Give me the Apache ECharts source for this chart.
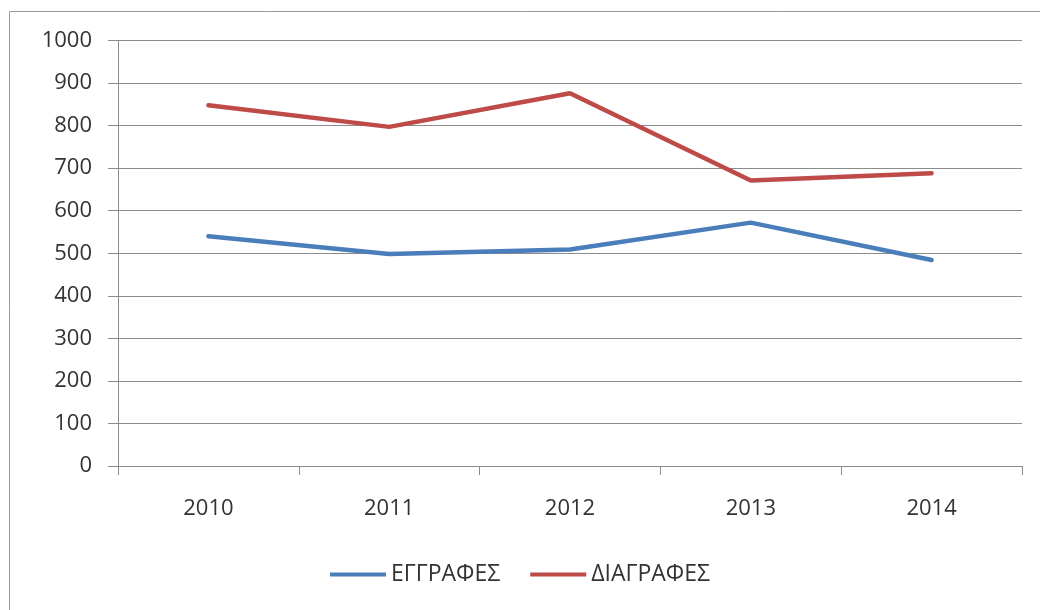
<!DOCTYPE html>
<html>
<head>
<meta charset="utf-8">
<script src="https://cdn.jsdelivr.net/npm/echarts@6/dist/echarts.min.js"></script>
<style>
  html, body { margin: 0; padding: 0; background: #fff; }
  #chart { width: 1040px; height: 610px; }
</style>
</head>
<body>
<div id="chart"></div>
<script>
const years = ['2010', '2011', '2012', '2013', '2014']
const registrations = [540, 498, 509, 572, 484]   // ΕΓΓΡΑΦΕΣ
const deletions = [848, 797, 876, 671, 688]       // ΔΙΑΓΡΑΦΕΣ

const axisGrey = '#8c8c8c'
const textColor = '#333333'
const fontFamily = 'Open Sans, Liberation Sans, sans-serif'

const chart = echarts.init(document.getElementById('chart'))
chart.setOption({
  animation: false,
  graphic: [{
    type: 'rect',
    shape: { x: 9.5, y: 11.5, width: 1200, height: 800 },
    style: { fill: 'none', stroke: '#9a9a9a', lineWidth: 1 },
    silent: true
  }],
  grid: {
    left: 118,
    right: 18,
    top: 40.5,
    bottom: 144
  },
  legend: {
    bottom: 19,
    left: 'center',
    itemWidth: 56,
    itemHeight: 4,
    itemGap: 30,
    icon: 'rect',
    textStyle: { fontSize: 23, color: textColor, fontFamily: fontFamily },
    data: ['ΕΓΓΡΑΦΕΣ', 'ΔΙΑΓΡΑΦΕΣ']
  },
  xAxis: {
    type: 'category',
    data: years,
    boundaryGap: true,
    axisLine: { lineStyle: { color: axisGrey } },
    axisTick: { show: true, length: 9, lineStyle: { color: axisGrey } },
    axisLabel: { fontSize: 22, color: textColor, margin: 32, fontFamily: fontFamily }
  },
  yAxis: {
    type: 'value',
    min: 0,
    max: 1000,
    interval: 100,
    axisLine: { show: true, lineStyle: { color: axisGrey } },
    axisTick: { show: true, length: 10, lineStyle: { color: axisGrey } },
    axisLabel: {
      fontSize: 22,
      color: textColor,
      margin: 26,
      fontFamily: fontFamily,
      formatter: function (v) { return String(v) }
    },
    splitLine: { lineStyle: { color: axisGrey } }
  },
  series: [
    {
      name: 'ΕΓΓΡΑΦΕΣ',
      type: 'line',
      data: registrations,
      showSymbol: false,
      symbol: 'none',
      lineStyle: { width: 4.5, color: '#4a7ebb', cap: 'round' },
      itemStyle: { color: '#4a7ebb' }
    },
    {
      name: 'ΔΙΑΓΡΑΦΕΣ',
      type: 'line',
      data: deletions,
      showSymbol: false,
      symbol: 'none',
      lineStyle: { width: 4.5, color: '#be4b48', cap: 'round' },
      itemStyle: { color: '#be4b48' }
    }
  ]
})
</script>
</body>
</html>
